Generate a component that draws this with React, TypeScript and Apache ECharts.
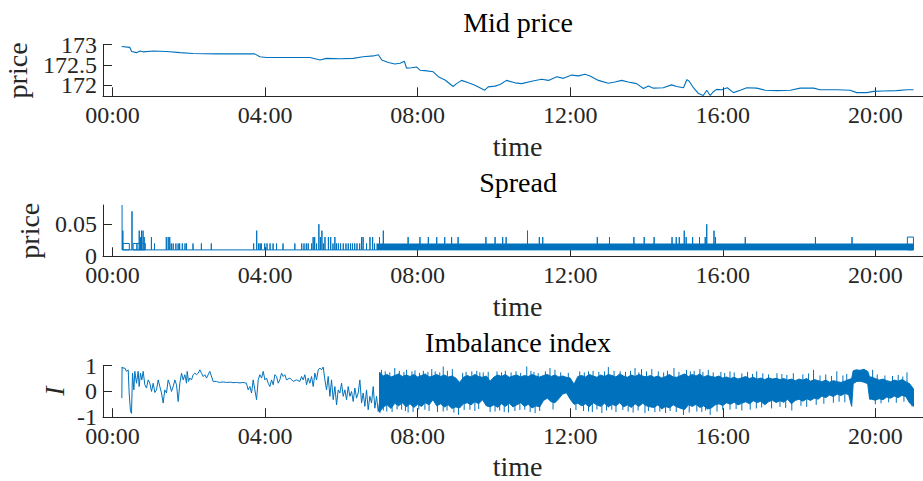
import { useEffect, useRef } from 'react';
import * as echarts from 'echarts';

// ---- palette & typography ----
const BLUE = '#0072BD';
const AXIS = '#262626';
const FONT = '"Liberation Serif", "Times New Roman", serif';

// ---- axis ticks ----
const hourTicks = [0, 4, 8, 12, 16, 20];
const midTicks = [172, 172.5, 173];
const midOuterLabels = [172, 173];
const midInnerLabels = [172.5];
const spreadTicks = [0, 0.05];
const imbalanceTicks = [-1, 0, 1];

// ---- mid price: [hour of day, price] ----
const midPrice: [number, number][] = [
  [0.24, 172.95], [0.45, 172.93], [0.5, 172.83], [0.63, 172.8], [0.72, 172.84], [0.8, 172.82],
  [1.07, 172.84], [1.42, 172.83], [1.77, 172.8], [2.11, 172.78], [2.73, 172.77], [3.73, 172.77],
  [3.86, 172.7], [4.04, 172.68], [4.53, 172.68], [5.18, 172.68], [5.44, 172.62], [5.61, 172.66],
  [5.96, 172.65], [6.31, 172.66], [6.57, 172.7], [6.84, 172.72], [6.97, 172.75], [7.06, 172.62],
  [7.23, 172.56], [7.4, 172.52], [7.54, 172.54], [7.65, 172.59], [7.71, 172.42], [7.84, 172.43],
  [7.97, 172.45], [8.06, 172.37], [8.19, 172.36], [8.41, 172.33], [8.54, 172.21], [8.72, 172.13],
  [8.93, 171.97], [9.02, 172.04], [9.15, 172.12], [9.33, 172.06], [9.5, 172.0], [9.63, 171.94],
  [9.76, 171.88], [9.85, 171.96], [10.03, 171.98], [10.16, 172.02], [10.33, 172.12], [10.55, 172.06],
  [10.73, 172.04], [10.99, 172.1], [11.25, 172.15], [11.43, 172.12], [11.65, 172.21], [11.82, 172.17],
  [12.04, 172.25], [12.21, 172.23], [12.39, 172.27], [12.52, 172.23], [12.74, 172.12], [13.0, 172.05],
  [13.17, 172.08], [13.35, 172.12], [13.52, 172.08], [13.74, 172.04], [13.92, 171.92], [14.05, 171.98],
  [14.18, 171.93], [14.44, 171.94], [14.66, 172.01], [14.79, 171.97], [14.97, 171.94], [15.06, 172.14],
  [15.12, 172.1], [15.23, 171.94], [15.36, 171.8], [15.49, 171.75], [15.58, 171.88], [15.67, 171.75],
  [15.75, 171.84], [15.84, 171.9], [15.97, 171.89], [16.12, 171.94], [16.28, 171.82], [16.46, 171.88],
  [16.63, 171.94], [16.89, 171.93], [17.11, 171.88], [17.42, 171.87], [17.77, 171.88], [18.03, 171.93],
  [18.38, 171.93], [18.55, 171.89], [18.99, 171.89], [19.34, 171.88], [19.51, 171.82], [19.78, 171.82],
  [19.95, 171.85], [20.21, 171.86], [20.56, 171.87], [20.83, 171.89], [21.0, 171.89],
];

// ---- spread ----
const spreadTickSize = 0.01;
const spreadOpen: [number, number] = [0.25, 0.08];
const spreadCloseHour = 21.0;
// short-lived widenings: [hour, spread]
const spreadSpikes: [number, number][] = [
  [0.27, 0.04], [0.51, 0.07], [0.7, 0.04], [0.73, 0.03], [0.76, 0.04], [0.8, 0.04], [0.83, 0.03],
  [1.02, 0.03], [1.1, 0.02], [1.41, 0.03], [1.46, 0.03], [1.5, 0.03], [1.54, 0.02], [1.59, 0.02],
  [1.66, 0.02], [1.72, 0.02], [1.76, 0.02], [1.83, 0.02], [1.9, 0.02], [1.94, 0.02], [2.11, 0.02],
  [2.33, 0.02], [2.59, 0.02], [3.7, 0.02], [3.78, 0.04], [3.83, 0.02], [3.87, 0.02], [3.9, 0.02],
  [3.99, 0.02], [4.05, 0.02], [4.13, 0.02], [4.21, 0.02], [4.3, 0.02], [4.47, 0.02], [4.78, 0.02],
  [4.96, 0.02], [5.02, 0.02], [5.08, 0.02], [5.13, 0.02],
  [5.22, 0.02], [5.26, 0.03], [5.3, 0.03],
  [5.35, 0.02], [5.41, 0.05], [5.45, 0.03], [5.49, 0.04], [5.53, 0.02], [5.57, 0.03], [5.66, 0.03],
  [5.72, 0.03], [5.78, 0.02], [5.83, 0.03], [5.87, 0.02], [5.92, 0.02], [5.98, 0.02], [6.05, 0.02],
  [6.12, 0.02], [6.18, 0.02], [6.24, 0.02], [6.29, 0.02], [6.35, 0.02], [6.41, 0.02], [6.48, 0.02],
  [6.53, 0.03], [6.57, 0.03], [6.66, 0.02], [6.75, 0.03], [6.82, 0.03], [6.87, 0.02], [7.0, 0.03],
  [7.1, 0.04], [7.75, 0.03], [8.06, 0.03], [8.28, 0.03], [8.5, 0.03], [8.71, 0.03], [8.89, 0.03],
  [9.06, 0.03], [9.79, 0.03], [10.03, 0.03], [10.23, 0.03], [10.32, 0.03], [10.88, 0.04], [11.19, 0.03],
  [11.28, 0.03], [12.71, 0.03], [13.03, 0.03], [13.67, 0.03], [13.94, 0.03], [14.2, 0.03], [14.67, 0.03],
  [14.78, 0.03], [14.86, 0.03], [14.99, 0.04], [15.04, 0.03], [15.21, 0.03], [15.39, 0.03], [15.54, 0.03],
  [15.58, 0.05], [15.77, 0.04], [15.81, 0.03], [16.59, 0.03], [18.43, 0.03], [19.39, 0.03],
];
// spells at a wider spread: [from hour, to hour, spread]
const spreadSpells: [number, number, number][] = [
  [0.27, 0.44, 0.02], [0.54, 0.64, 0.02], [0.64, 0.86, 0.02], [20.84, 21.0, 0.03],
];
// continuous flicker between one and two ticks: [from hour, to hour, low, high]
const spreadFlicker: [number, number, number, number][] = [[6.92, 21.0, 0.01, 0.02]];

// ---- imbalance index ----
const imbalanceEarly: [number, number][] = [
  [0.244, -0.26], [0.25, 0.95], [0.261, 0.91], [0.322, 0.91], [0.366, 0.78], [0.41, 0.84], [0.436, -0.06],
  [0.471, -0.78], [0.497, -0.85], [0.524, 0.71], [0.559, 0.06], [0.585, 0.78], [0.628, 0.32], [0.672, 0.78],
  [0.698, 0.19], [0.733, 0.71], [0.768, 0.45], [0.803, 0.78], [0.847, 0.26], [0.891, 0.13], [0.934, 0.45],
  [0.978, 0.32], [1.022, 0.0], [1.066, 0.32], [1.109, -0.04], [1.153, 0.06], [1.197, 0.45], [1.24, 0.19],
  [1.284, -0.06], [1.328, -0.45], [1.371, 0.06], [1.415, -0.06], [1.459, 0.45], [1.503, 0.26], [1.546, 0.0],
  [1.59, 0.19], [1.634, 0.45], [1.677, 0.26], [1.721, -0.39], [1.765, 0.32], [1.809, 0.71], [1.852, 0.45],
  [1.896, 0.65], [1.94, 0.32], [1.957, 0.78], [1.992, 0.39], [2.027, 0.52], [2.071, 0.45], [2.114, 0.65],
  [2.158, 0.71], [2.202, 0.65], [2.245, 0.71], [2.289, 0.84], [2.333, 0.71], [2.377, 0.58], [2.42, 0.65],
  [2.464, 0.52], [2.551, 0.78], [2.639, 0.39], [2.726, 0.39], [2.8, 0.35], [2.9, 0.37], [2.99, 0.35],
  [3.1, 0.36], [3.16, 0.34], [3.25, 0.35], [3.34, 0.33], [3.42, 0.35], [3.51, 0.32], [3.557, 0.06],
  [3.601, 0.19], [3.645, -0.06], [3.688, 0.45], [3.732, 0.06], [3.776, -0.32], [3.819, 0.45], [3.863, 0.65],
  [3.907, 0.52], [3.951, 0.78], [3.994, 0.45], [4.038, 0.52], [4.082, 0.32], [4.125, 0.19], [4.169, 0.45],
  [4.213, 0.26], [4.256, 0.65], [4.3, 0.58], [4.344, 0.32], [4.387, 0.45], [4.431, 0.71], [4.475, 0.58],
  [4.518, 0.65], [4.562, 0.45], [4.65, 0.52], [4.737, 0.39], [4.824, 0.45], [4.912, 0.39], [4.956, 0.58],
  [4.999, 0.45], [5.043, 0.65], [5.087, 0.26], [5.13, 0.52], [5.174, 0.32], [5.218, 0.58], [5.262, 0.19],
  [5.305, 0.71], [5.349, 0.45], [5.393, 0.84], [5.436, 0.91], [5.48, 0.84], [5.524, 0.95], [5.568, 0.45],
  [5.611, 0.06], [5.655, 0.58], [5.699, -0.19], [5.742, 0.45], [5.786, -0.32], [5.83, 0.19], [5.874, -0.52],
  [5.917, 0.06], [5.961, -0.06], [6.005, 0.32], [6.048, -0.19], [6.092, 0.06], [6.136, -0.32], [6.179, 0.19],
  [6.223, -0.19], [6.267, 0.0], [6.31, -0.39], [6.354, 0.13], [6.398, -0.26], [6.441, -0.06], [6.485, 0.45],
  [6.529, -0.45], [6.572, -0.06], [6.616, -0.58], [6.66, 0.06], [6.703, -0.71], [6.747, -0.19], [6.791, -0.45],
  [6.835, 0.19], [6.878, -0.65], [6.922, -0.19], [6.966, -0.78], [7.01, -0.32],
];
// busy session: range of the index per slice, [hour, low, high]
const imbalanceRange: [number, number, number][] = [
  [7.0, -0.8, 0.75], [7.1, -0.6, 0.6], [7.2, -0.52, 0.66], [7.3, -0.66, 0.56], [7.4, -0.46, 0.62],
  [7.5, -0.56, 0.68], [7.6, -0.44, 0.58], [7.7, -0.6, 0.64], [7.8, -0.48, 0.58], [7.9, -0.62, 0.66],
  [8.0, -0.5, 0.56], [8.1, -0.58, 0.62], [8.2, -0.44, 0.68], [8.3, -0.52, 0.56], [8.4, -0.32, 0.6],
  [8.5, -0.56, 0.66], [8.6, -0.48, 0.58], [8.7, -0.6, 0.64], [8.8, -0.52, 0.56], [8.9, -0.66, 0.6],
  [9.0, -0.6, 0.52], [9.1, -0.64, 0.35], [9.2, -0.48, 0.55], [9.3, -0.44, 0.62], [9.4, -0.52, 0.56],
  [9.5, -0.4, 0.66], [9.6, -0.48, 0.58], [9.7, -0.32, 0.55], [9.8, -0.56, 0.6], [9.9, -0.6, 0.4],
  [10.0, -0.52, 0.56], [10.1, -0.62, 0.64], [10.2, -0.48, 0.58], [10.3, -0.58, 0.66], [10.4, -0.46, 0.55],
  [10.5, -0.6, 0.6], [10.6, -0.52, 0.64], [10.7, -0.44, 0.56], [10.8, -0.58, 0.62], [10.9, -0.5, 0.58],
  [11.0, -0.64, 0.66], [11.1, -0.56, 0.6], [11.2, -0.6, 0.56], [11.3, -0.35, 0.62], [11.4, -0.26, 0.66],
  [11.5, -0.4, 0.58], [11.6, -0.44, 0.64], [11.7, -0.28, 0.56], [11.8, -0.1, 0.6], [11.9, -0.05, 0.55],
  [12.0, -0.3, 0.52], [12.1, -0.5, 0.28], [12.2, -0.46, 0.58], [12.3, -0.56, 0.62], [12.4, -0.48, 0.56],
  [12.5, -0.6, 0.66], [12.6, -0.44, 0.6], [12.7, -0.52, 0.55], [12.8, -0.58, 0.64], [12.9, -0.46, 0.58],
  [13.0, -0.6, 0.66], [13.1, -0.5, 0.62], [13.2, -0.56, 0.56], [13.3, -0.44, 0.68], [13.4, -0.6, 0.6],
  [13.5, -0.52, 0.55], [13.6, -0.62, 0.64], [13.7, -0.48, 0.58], [13.8, -0.58, 0.66], [13.9, -0.46, 0.6],
  [14.0, -0.56, 0.56], [14.1, -0.6, 0.62], [14.2, -0.62, 0.55], [14.3, -0.52, 0.6], [14.4, -0.68, 0.52],
  [14.5, -0.58, 0.58], [14.6, -0.64, 0.66], [14.7, -0.52, 0.56], [14.8, -0.6, 0.55], [14.9, -0.66, 0.62],
  [15.0, -0.7, 0.68], [15.1, -0.52, 0.58], [15.2, -0.58, 0.66], [15.3, -0.5, 0.6], [15.4, -0.62, 0.68],
  [15.5, -0.56, 0.56], [15.6, -0.68, 0.62], [15.7, -0.64, 0.58], [15.8, -0.52, 0.55], [15.9, -0.48, 0.6],
  [16.0, -0.55, 0.52], [16.1, -0.44, 0.56], [16.2, -0.5, 0.5], [16.3, -0.42, 0.55], [16.4, -0.52, 0.48],
  [16.5, -0.46, 0.53], [16.6, -0.4, 0.58], [16.7, -0.48, 0.5], [16.8, -0.36, 0.55], [16.9, -0.43, 0.48],
  [17.0, -0.38, 0.52], [17.1, -0.52, 0.46], [17.2, -0.4, 0.53], [17.3, -0.34, 0.48], [17.4, -0.43, 0.51],
  [17.5, -0.36, 0.46], [17.6, -0.42, 0.5], [17.7, -0.3, 0.44], [17.8, -0.48, 0.48], [17.9, -0.35, 0.42],
  [18.0, -0.3, 0.48], [18.1, -0.38, 0.44], [18.2, -0.28, 0.5], [18.3, -0.35, 0.4], [18.4, -0.26, 0.46],
  [18.5, -0.3, 0.42], [18.6, -0.18, 0.38], [18.7, -0.24, 0.44], [18.8, -0.14, 0.36], [18.9, -0.2, 0.42],
  [19.0, -0.1, 0.38], [19.1, -0.16, 0.35], [19.2, -0.08, 0.4], [19.3, -0.12, 0.46], [19.38, -0.58, 0.5],
  [19.42, 0.3, 0.8], [19.5, 0.38, 0.84], [19.6, 0.4, 0.82], [19.7, 0.36, 0.86], [19.8, 0.3, 0.78],
  [19.85, -0.3, 0.56], [19.9, -0.3, 0.56], [20.0, -0.34, 0.5], [20.1, -0.28, 0.44], [20.2, -0.32, 0.48],
  [20.3, -0.22, 0.42], [20.4, -0.26, 0.38], [20.5, -0.18, 0.44], [20.6, -0.24, 0.4], [20.7, -0.15, 0.46],
  [20.8, -0.2, 0.38], [20.9, -0.45, 0.3], [21.0, -0.58, 0.1],
];
// sharp excursions in the busy session: [hour, index]
const imbalanceSpikes: [number, number][] = [
  [7.05, 0.84], [7.15, 0.78], [7.27, 0.74], [7.4, 0.91], [7.52, 0.8], [7.64, 0.76], [7.71, 0.84],
  [7.85, 0.78], [7.93, 0.82], [8.05, 0.72], [8.15, 0.8], [8.27, 0.76], [8.37, 0.87], [8.46, 0.78],
  [8.58, 0.74], [8.67, 0.97], [8.78, 0.8], [8.91, 0.87], [9.18, 0.72], [9.27, 0.76], [9.42, 0.78],
  [9.55, 0.8], [9.63, 0.74], [9.72, 0.74], [9.85, 0.76], [10.08, 0.78], [10.2, 0.74], [10.3, 0.8],
  [10.45, 0.74], [10.58, 0.78], [10.7, 0.72], [10.86, 0.97], [10.97, 0.8], [11.05, 0.76], [11.16, 0.71],
  [11.35, 0.78], [11.47, 0.91], [11.6, 0.84], [11.75, 0.74], [11.95, 0.72], [12.25, 0.78], [12.37, 0.74],
  [12.48, 0.78], [12.6, 0.8], [12.75, 0.76], [12.9, 0.78], [13.0, 0.95], [13.15, 0.8], [13.31, 0.78],
  [13.45, 0.76], [13.58, 0.8], [13.7, 0.91], [13.8, 0.74], [13.87, 0.87], [14.0, 0.78], [14.14, 0.87],
  [14.31, 0.78], [14.45, 0.74], [14.55, 0.8], [14.72, 0.91], [14.85, 0.76], [15.05, 0.84], [15.15, 0.78],
  [15.25, 0.8], [15.4, 0.87], [15.48, 0.76], [15.62, 0.84], [15.75, 0.74], [15.95, 0.76], [16.05, 0.72],
  [16.19, 0.78], [16.3, 0.74], [16.5, 0.7], [16.65, 0.76], [16.78, 0.68], [16.89, 0.78], [17.05, 0.7],
  [17.2, 0.66], [17.42, 0.71], [17.55, 0.68], [17.68, 0.64], [17.85, 0.71], [18.1, 0.66], [18.25, 0.7],
  [18.38, 0.84], [18.55, 0.62], [18.7, 0.66], [18.85, 0.6], [18.99, 0.78], [19.15, 0.62], [19.25, 0.68],
  [19.93, 0.84], [20.05, 0.66], [20.25, 0.62], [20.45, 0.6], [20.6, 0.64], [20.72, 0.58], [20.83, 0.74],
  [7.01, -0.84], [7.1, -0.74], [7.19, -0.78], [7.33, -0.8], [7.46, -0.7], [7.58, -0.71], [7.68, -0.76],
  [7.75, -0.82], [7.88, -0.8], [8.03, -0.7], [8.19, -0.71], [8.3, -0.76], [8.52, -0.8], [8.67, -0.78],
  [8.77, -0.74], [8.95, -0.82], [9.07, -0.91], [9.22, -0.72], [9.37, -0.71], [9.5, -0.76], [9.6, -0.68],
  [9.9, -0.8], [10.03, -0.78], [10.15, -0.74], [10.27, -0.8], [10.38, -0.82], [10.55, -0.76], [10.68, -0.72],
  [10.81, -0.71], [10.95, -0.8], [11.08, -0.84], [11.2, -0.76], [11.55, -0.7], [12.15, -0.72], [12.35, -0.76],
  [12.48, -0.78], [12.58, -0.8], [12.7, -0.7], [12.83, -0.84], [12.95, -0.74], [13.09, -0.71], [13.2, -0.8],
  [13.38, -0.72], [13.52, -0.78], [13.65, -0.82], [13.78, -0.74], [13.96, -0.84], [14.05, -0.76], [14.22, -0.8],
  [14.35, -0.78], [14.5, -0.84], [14.62, -0.76], [14.78, -0.8], [14.97, -0.91], [15.12, -0.82], [15.32, -0.78],
  [15.45, -0.8], [15.55, -0.74], [15.67, -0.91], [15.85, -0.78], [16.0, -0.72], [16.19, -0.71], [16.35, -0.68],
  [16.5, -0.74], [16.72, -0.71], [16.88, -0.66], [17.02, -0.62], [17.28, -0.66], [17.5, -0.6], [17.65, -0.64],
  [17.81, -0.74], [18.05, -0.56], [18.2, -0.6], [18.45, -0.52], [18.65, -0.48], [18.9, -0.44], [19.05, -0.4],
  [19.2, -0.42], [20.0, -0.5], [20.15, -0.46], [20.35, -0.42], [20.55, -0.44], [20.75, -0.4], [20.96, -0.58],
];

// Spread path: baseline one tick, with excursions drawn as they happen.
function buildSpreadPath(): [number, number][] {
  const events: { t: number; pts: [number, number][] }[] = [
    ...spreadSpikes.map(([t, v]) => ({
      t,
      pts: [[t, spreadTickSize], [t, v], [t, spreadTickSize]] as [number, number][],
    })),
    ...spreadSpells.map(([t0, t1, v]) => ({
      t: t0,
      pts: [[t0, spreadTickSize], [t0, v], [t1, v], [t1, spreadTickSize], [t0, spreadTickSize]] as [number, number][],
    })),
  ].sort((a, b) => a.t - b.t);
  const path: [number, number][] = [spreadOpen, [spreadOpen[0], spreadTickSize]];
  events.forEach((e) => path.push(...e.pts));
  path.push([spreadCloseHour, spreadTickSize]);
  return path;
}

const hourLabel = (v: number) => `${String(Math.round(v)).padStart(2, '0')}:00`;

const GRIDS = [
  { left: 103, right: 0, top: 44.5, height: 51.8, containLabel: false, outerBoundsMode: 'none' },
  { left: 103, right: 0, top: 205, height: 51.3, containLabel: false, outerBoundsMode: 'none' },
  { left: 103, right: 0, top: 365.7, height: 51.5, containLabel: false, outerBoundsMode: 'none' },
];

const labelText = {
  fontSize: 24,
  fontFamily: FONT,
  color: AXIS,
  verticalAlign: 'middle',
};

function xAxisFor(i: number) {
  return {
    type: 'value',
    gridIndex: i,
    position: 'bottom',
    min: -0.25,
    max: 21.25,
    axisLine: { show: true, onZero: false, lineStyle: { color: AXIS, width: 1 } },
    axisTick: { show: true, inside: true, length: 9, customValues: hourTicks, lineStyle: { color: AXIS, width: 1 } },
    axisLabel: { ...labelText, customValues: hourTicks, formatter: hourLabel, margin: 18.8 },
    splitLine: { show: false },
  };
}

function yAxisFor(i: number, min: number, max: number, ticks: number[], labels: number[] = ticks) {
  return {
    type: 'value',
    gridIndex: i,
    position: 'left',
    min,
    max,
    axisLine: { show: true, onZero: false, lineStyle: { color: AXIS, width: 1 } },
    axisTick: { show: true, inside: true, length: 9, customValues: ticks, lineStyle: { color: AXIS, width: 1 } },
    axisLabel: {
      ...labelText,
      customValues: labels,
      formatter: (v: number) => String(v),
      margin: 6,
      showMinLabel: true,
      showMaxLabel: true,
    },
    splitLine: { show: false },
  };
}

// Label-only companion axis on the left, sharing the scale of a drawn axis.
function yLabelAxisFor(i: number, min: number, max: number, labels: number[]) {
  return {
    type: 'value',
    gridIndex: i,
    position: 'left',
    offset: 0,
    min,
    max,
    axisLine: { show: false },
    axisTick: { show: false },
    axisLabel: {
      ...labelText,
      customValues: labels,
      formatter: (v: number) => String(v),
      margin: 6,
      showMinLabel: true,
      showMaxLabel: true,
    },
    splitLine: { show: false },
  };
}

function textEl(text: string, x: number, y: number, opts: { rotate?: number; italic?: boolean; color?: string } = {}) {
  return {
    type: 'text',
    x,
    y,
    rotation: opts.rotate ?? 0,
    silent: true,
    style: {
      text,
      font: `${opts.italic ? 'italic ' : ''}28px ${FONT}`,
      fill: opts.color ?? AXIS,
      align: 'center',
      verticalAlign: 'middle',
    },
  };
}

export default function App() {
  const ref = useRef<HTMLDivElement>(null);

  useEffect(() => {
    document.body.style.margin = '0';
    if (!ref.current) return;
    const chart = echarts.init(ref.current, undefined, { renderer: 'svg' });

    const option = {
      animation: false,
      backgroundColor: '#ffffff',
      grid: GRIDS,
      xAxis: [xAxisFor(0), xAxisFor(1), xAxisFor(2)],
      yAxis: [
        yAxisFor(0, 171.73, 173, midTicks, midOuterLabels),
        yAxisFor(1, 0, 0.08, spreadTicks),
        yAxisFor(2, -1, 1, imbalanceTicks),
        yLabelAxisFor(0, 171.73, 173, midInnerLabels),
      ],
      graphic: [
        textEl('Mid price', 518, 22.3, { color: '#000' }),
        textEl('time', 517.5, 146.6),
        textEl('price', 17.8, 70.4, { rotate: Math.PI / 2 }),
        textEl('Spread', 518, 182.3, { color: '#000' }),
        textEl('time', 517.5, 306.6),
        textEl('price', 29, 230.7, { rotate: Math.PI / 2 }),
        textEl('Imbalance index', 518, 342.3, { color: '#000' }),
        textEl('time', 517.5, 466.6),
        textEl('I', 54, 391, { rotate: Math.PI / 2, italic: true }),
      ],
      series: [
        {
          type: 'line',
          xAxisIndex: 0,
          yAxisIndex: 0,
          data: midPrice,
          showSymbol: false,
          silent: true,
          lineStyle: { color: BLUE, width: 1.1 },
        },
        {
          type: 'custom',
          xAxisIndex: 1,
          yAxisIndex: 1,
          silent: true,
          data: spreadFlicker,
          encode: { x: [0, 1], y: [2, 3] },
          renderItem: (_p: any, api: any) => {
            const a = api.coord([api.value(0), api.value(3)]);
            const b = api.coord([api.value(1), api.value(2)]);
            return {
              type: 'rect',
              shape: { x: a[0], y: a[1], width: b[0] - a[0], height: b[1] - a[1] },
              style: { fill: BLUE },
            };
          },
        },
        {
          type: 'line',
          xAxisIndex: 1,
          yAxisIndex: 1,
          data: buildSpreadPath(),
          showSymbol: false,
          silent: true,
          lineStyle: { color: BLUE, width: 1 },
        },
        {
          type: 'line',
          xAxisIndex: 2,
          yAxisIndex: 2,
          data: imbalanceEarly,
          showSymbol: false,
          silent: true,
          lineStyle: { color: BLUE, width: 1 },
        },
        {
          type: 'custom',
          xAxisIndex: 2,
          yAxisIndex: 2,
          silent: true,
          clip: true,
          data: imbalanceRange,
          encode: { x: 0, y: [1, 2] },
          renderItem: (params: any, api: any) => {
            if (params.dataIndex !== 0) return null;
            const top = imbalanceRange.map(([h, , hi]) => api.coord([h, hi]));
            const bottom = imbalanceRange
              .slice()
              .reverse()
              .map(([h, lo]) => api.coord([h, lo]));
            return {
              type: 'polygon',
              shape: { points: [...top, ...bottom] },
              style: { fill: BLUE, stroke: BLUE, lineWidth: 1 },
            };
          },
        },
        {
          type: 'custom',
          xAxisIndex: 2,
          yAxisIndex: 2,
          silent: true,
          clip: true,
          data: imbalanceSpikes,
          encode: { x: 0, y: 1 },
          renderItem: (_p: any, api: any) => {
            const h = api.value(0);
            const a = api.coord([h, 0]);
            const b = api.coord([h, api.value(1)]);
            return {
              type: 'line',
              shape: { x1: a[0], y1: a[1], x2: b[0], y2: b[1] },
              style: { stroke: BLUE, lineWidth: 1 },
            };
          },
        },
      ],
    };

    chart.setOption(option as any);
    return () => chart.dispose();
  }, []);

  return <div ref={ref} style={{ width: 923, height: 481 }} />;
}
